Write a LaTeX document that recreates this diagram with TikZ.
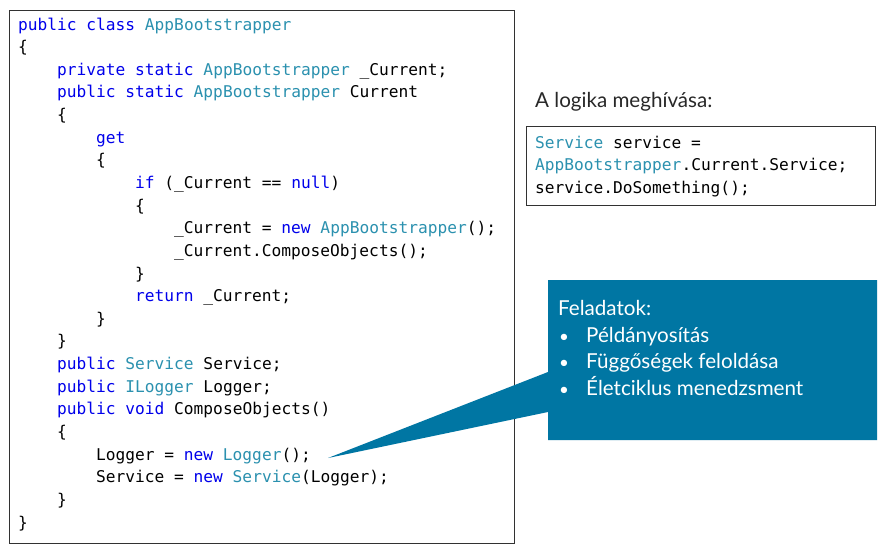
\documentclass[tikz,border=0pt]{standalone}
\usepackage{fontspec}
\setmainfont{Lato}
\setmonofont{DejaVu Sans Mono}
\definecolor{kw}{RGB}{0,0,235}
\definecolor{ty}{RGB}{43,145,175}
\definecolor{calloutblue}{RGB}{0,118,163}
\definecolor{frame}{RGB}{50,50,50}
\definecolor{headgray}{RGB}{40,40,40}
\newcommand{\K}[1]{\textcolor{kw}{#1}}
\newcommand{\T}[1]{\textcolor{ty}{#1}}
\newcommand{\codeln}[3]{\node[codetext] (l#1) at ({18+39*#2},{30+22.64*(#1-1)}) {#3};}
\newcommand{\smallln}[2]{\node[codetext] (s#1) at (535,{148+22.5*(#1-1)}) {#2};}
\begin{document}
\begin{tikzpicture}[x=1pt,y=-1pt,
  codetext/.style={anchor=base west, inner sep=0pt, font=\fontsize{16.2}{20}\selectfont\ttfamily},
  framebox/.style={draw=frame, line width=0.9pt},
  sanstext/.style={anchor=base west, inner sep=0pt, font=\fontsize{20.6}{24}\selectfont},
  calltext/.style={sanstext, text=white}]
\useasboundingbox (0,0) rectangle (879,547);
\fill[white] (0,0) rectangle (879,547);
% main code box
\draw[framebox] (9,10) rectangle (514,543);
\codeln{1}{0}{\K{public} \K{class} \T{AppBootstrapper}}
\codeln{2}{0}{\{}
\codeln{3}{1}{\K{private} \K{static} \T{AppBootstrapper} \_Current;}
\codeln{4}{1}{\K{public} \K{static} \T{AppBootstrapper} Current}
\codeln{5}{1}{\{}
\codeln{6}{2}{\K{get}}
\codeln{7}{2}{\{}
\codeln{8}{3}{\K{if} (\_Current == \K{null})}
\codeln{9}{3}{\{}
\codeln{10}{4}{\_Current = \K{new} \T{AppBootstrapper}();}
\codeln{11}{4}{\_Current.ComposeObjects();}
\codeln{12}{3}{\}}
\codeln{13}{3}{\K{return} \_Current;}
\codeln{14}{2}{\}}
\codeln{15}{1}{\}}
\codeln{16}{1}{\K{public} \T{Service} Service;}
\codeln{17}{1}{\K{public} \T{ILogger} Logger;}
\codeln{18}{1}{\K{public} \K{void} ComposeObjects()}
\codeln{19}{1}{\{}
\codeln{20}{2}{Logger = \K{new} \T{Logger}();}
\codeln{21}{2}{Service = \K{new} \T{Service}(Logger);}
\codeln{22}{1}{\}}
\codeln{23}{0}{\}}
% right: heading and small code box
\node[sanstext, text=headgray] (head) at (535,107) {A logika meghívása:};
\draw[framebox] (526,126) rectangle (875,205);
\smallln{1}{\T{Service} service =}
\smallln{2}{\T{AppBootstrapper}.Current.Service;}
\smallln{3}{service.DoSomething();}
% callout
\coordinate (tip) at (328,458);
\fill[calloutblue] (548,280) -- (877,280) -- (877,440) -- (548,440) -- (548,412) -- (tip) -- (548,372) -- cycle;
\node[calltext] (feladat) at (558,315) {Feladatok:};
\node[calltext] (b1) at (586,342) {Példányosítás};
\node[calltext] (b2) at (586,368) {Függőségek feloldása};
\node[calltext] (b3) at (586,395) {Életciklus menedzsment};
\foreach \y/\n in {342/d1,368/d2,395/d3}{
  \node[calltext, anchor=base, font=\fontsize{17}{20}\selectfont] (\n) at (564,\y) {•};
}
\end{tikzpicture}
\end{document}
